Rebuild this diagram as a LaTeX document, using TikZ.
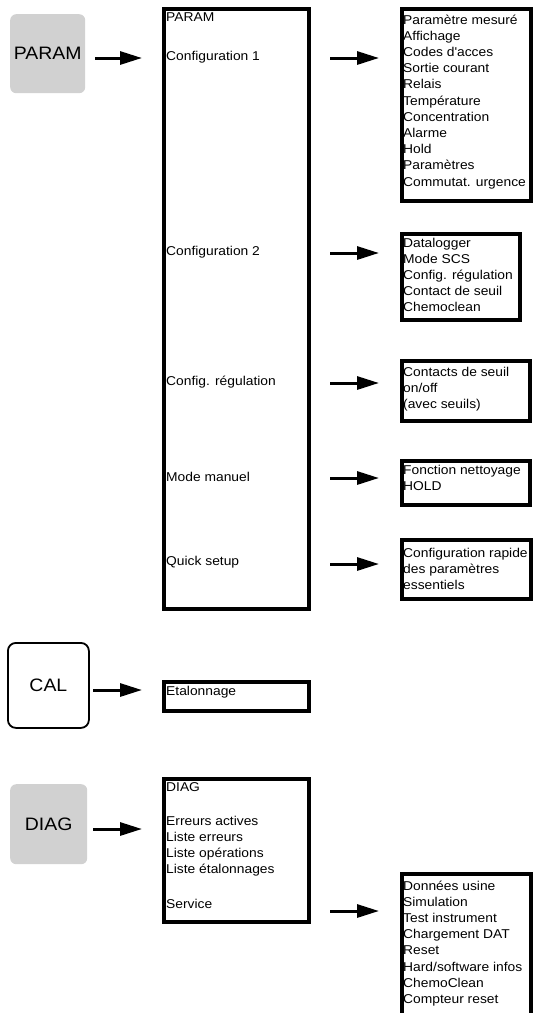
\documentclass[tikz,border=0pt]{standalone}
\usepackage{fontspec}
\setmainfont{Liberation Sans}[FakeStretch=1.08]
\usetikzlibrary{arrows.meta}
% a left-aligned column whose baseline is that of its first line
\newcommand\menulist[1]{\begin{tabular}[t]{@{}l@{}}#1\end{tabular}}
\begin{document}
\begin{tikzpicture}[x=1pt,y=-1pt,
  panel/.style={draw=black, line width=4pt, fill=white, inner sep=0pt,
    anchor=north west,
    preaction={fill=black, transform canvas={shift={(-1.2pt,-2.2pt)}}}},
  keybtn/.style={fill=black!18, rounded corners=6pt, inner sep=0pt,
    anchor=north west},
  calbtn/.style={draw=black, line width=1.8pt, fill=white, rounded corners=8pt,
    inner sep=0pt, anchor=north west},
  keylbl/.style={inner sep=0pt, font=\fontsize{18}{20}\selectfont},
  lbl/.style={inner sep=0pt, anchor=base west,
    font=\fontsize{12.8}{16.2}\selectfont},
  arr/.style={line width=3pt, -{Triangle[length=22pt,width=13pt]}}]
\useasboundingbox (0,0) rectangle (533,1013);

% --- PARAM key and its menu -------------------------------------------
\node[keybtn, minimum width=75pt, minimum height=79pt] (kparam) at (10,14) {};
\node[keylbl] (tparam) at (kparam.center) {PARAM};

\node[panel, minimum width=145pt, minimum height=600pt] (main) at (162,7) {};
\node[lbl] (m0) at (166,21) {PARAM};
\node[lbl] (m1) at (166,60) {Configuration 1};
\node[lbl] (m2) at (166,255) {Configuration 2};
\node[lbl] (m3) at (166,385) {Config. régulation};
\node[lbl] (m4) at (166,481) {Mode manuel};
\node[lbl] (m5) at (166,565) {Quick setup};

% sub-menus
\node[panel, minimum width=129pt, minimum height=192pt] (r1) at (400,7) {};
\node[lbl] (t1) at (403,24) {\menulist{Paramètre mesuré\\Affichage\\Codes d\textquotesingle acces\\Sortie courant\\Relais\\Température\\Concentration\\Alarme\\Hold\\Paramètres\\Commutat. urgence}};

\node[panel, minimum width=118pt, minimum height=86pt] (r2) at (400,232) {};
\node[lbl] (t2) at (403,247) {\menulist{Datalogger\\Mode SCS\\Config. régulation\\Contact de seuil\\Chemoclean}};

\node[panel, minimum width=128pt, minimum height=60pt] (r3) at (400,359) {};
\node[lbl] (t3) at (403,376) {\menulist{Contacts de seuil\\on/off\\(avec seuils)}};

\node[panel, minimum width=128pt, minimum height=44pt] (r4) at (400,459) {};
\node[lbl] (t4) at (403,474) {\menulist{Fonction nettoyage\\HOLD}};

\node[panel, minimum width=129pt, minimum height=59pt] (r5) at (400,538) {};
\node[lbl] (t5) at (403,557) {\menulist{Configuration rapide\\des paramètres\\essentiels}};

% --- CAL key --------------------------------------------------------------
\node[calbtn, minimum width=81pt, minimum height=85pt] (kcal) at (7,642) {};
\node[keylbl] (tcal) at (kcal.center) {CAL};
\node[panel, minimum width=145pt, minimum height=29pt] (cal) at (162,680) {};
\node[lbl] (c1) at (166,695) {Etalonnage};

% --- DIAG key -------------------------------------------------------------
\node[keybtn, minimum width=77pt, minimum height=80pt] (kdiag) at (10,784) {};
\node[keylbl] (tdiag) at (kdiag.center) {DIAG};
\node[panel, minimum width=145pt, minimum height=143pt] (diag) at (162,777) {};
\node[lbl] (d0) at (166,791) {DIAG};
\node[lbl] (d1) at (166,825) {\menulist{Erreurs actives\\Liste erreurs\\Liste opérations\\Liste étalonnages}};
\node[lbl] (d2) at (166,908) {Service};

\node[panel, minimum width=129pt, minimum height=170pt] (r6) at (400,872) {};
\node[lbl] (t6) at (403,890) {\menulist{Données usine\\Simulation\\Test instrument\\Chargement DAT\\Reset\\Hard/software infos\\ChemoClean\\Compteur reset}};

% --- arrows ---------------------------------------------------------------
\coordinate (a0s) at (95,58);  \coordinate (a0e) at (142,58);
\coordinate (a1s) at (330,58); \coordinate (a1e) at (379,58);
\coordinate (a2s) at (330,253); \coordinate (a2e) at (379,253);
\coordinate (a3s) at (330,383); \coordinate (a3e) at (379,383);
\coordinate (a4s) at (330,478); \coordinate (a4e) at (379,478);
\coordinate (a5s) at (330,564); \coordinate (a5e) at (379,564);
\coordinate (acs) at (93,690);  \coordinate (ace) at (142,690);
\coordinate (ads) at (93,829);  \coordinate (ade) at (142,829);
\coordinate (a6s) at (330,911); \coordinate (a6e) at (379,911);
\foreach \s/\e in {a0s/a0e,a1s/a1e,a2s/a2e,a3s/a3e,a4s/a4e,a5s/a5e,acs/ace,ads/ade,a6s/a6e}
  \draw[arr] (\s) -- (\e);
\end{tikzpicture}
\end{document}
